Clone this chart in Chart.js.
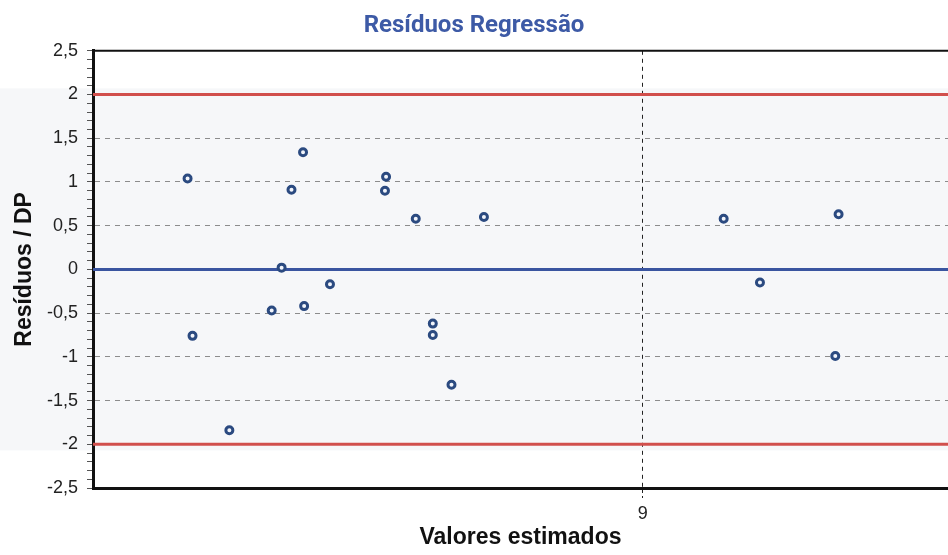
<!DOCTYPE html>
<html>
<head>
<meta charset="utf-8">
<script src="https://cdn.jsdelivr.net/npm/chart.js@4"></script>
<style>
  html, body { margin: 0; padding: 0; background: #fff; }
  #wrap { width: 948px; height: 555px; }
</style>
</head>
<body>
<div id="wrap"><canvas id="residuosChart" width="948" height="555"></canvas></div>
<script>
// valores estimados (x) e resíduos padronizados (y)
const estimados = [8.172, 8.181, 8.248, 8.325, 8.343, 8.361, 8.382, 8.384, 8.431, 8.533,
                   8.531, 8.587, 8.618, 8.618, 8.652, 8.711, 9.147, 9.213, 9.356, 9.350];
const residuos  = [1.04, -0.76, -1.84, -0.47, 0.02, 0.91, 1.34, -0.42, -0.17, 1.06,
                   0.90, 0.58, -0.62, -0.75, -1.32, 0.60, 0.58, -0.15, 0.63, -0.99];
const xRange = [8.0, 9.555];
const xTicks = [9];
const limites = [2, -2];
const centro = 0;

const ctx = document.getElementById('residuosChart').getContext('2d');

const fmt = v => String(Math.round(v * 10) / 10).replace('.', ',');
const isMajor = v => Math.abs(v * 2 - Math.round(v * 2)) < 1e-6;

const hline = (y, color) => ({
    data: [{x: xRange[0], y: y}, {x: xRange[1], y: y}],
    showLine: true,
    borderColor: color,
    borderWidth: 3,
    pointRadius: 0,
    fill: false
});

// faixa cinza clara e borda superior
const bgPlugin = {
    id: 'fundo',
    beforeDraw(chart) {
        const c = chart.ctx, y = chart.scales.y;
        c.save();
        c.fillStyle = '#f6f7f9';
        const top = y.getPixelForValue(2.07), bot = y.getPixelForValue(-2.07);
        c.fillRect(0, top, chart.width, bot - top);
        c.restore();
    },
    afterDraw(chart) {
        const c = chart.ctx, a = chart.chartArea;
        c.save();
        c.strokeStyle = '#111';
        c.lineWidth = 2;
        c.beginPath();
        c.moveTo(a.left, a.top);
        c.lineTo(a.right, a.top);
        c.stroke();
        c.restore();
    }
};

const residuosChart = new Chart(ctx, {
    type: 'scatter',
    data: {
        datasets: [
            {
                label: 'Resíduos',
                data: estimados.map((x, i) => ({x: x, y: residuos[i]})),
                pointStyle: 'circle',
                pointRadius: 3.5,
                borderWidth: 3,
                borderColor: '#2b4a80',
                backgroundColor: '#f2f5fb'
            },
            hline(centro, '#3a55a0'),
            hline(limites[0], '#d14f4c'),
            hline(limites[1], '#d14f4c')
        ]
    },
    options: {
        responsive: false,
        animation: false,
        layout: { padding: 0, autoPadding: false },
        plugins: {
            legend: { display: false },
            tooltip: { enabled: false },
            title: {
                display: true,
                text: 'Resíduos Regressão',
                color: '#3d5aa6',
                font: { family: 'Roboto', size: 24, weight: 'bold' },
                padding: { top: 12, bottom: 10 }
            }
        },
        scales: {
            x: {
                type: 'linear',
                min: xRange[0],
                max: xRange[1],
                afterBuildTicks: s => { s.ticks = xTicks.map(v => ({value: v})); },
                afterFit: s => { s.height = 67; s.paddingLeft = 0; s.paddingRight = 0; },
                ticks: {
                    color: '#222',
                    font: { family: 'Liberation Sans', size: 18 },
                    padding: 5,
                    callback: v => fmt(v)
                },
                grid: {
                    color: '#222',
                    lineWidth: 1,
                    tickLength: 10,
                    tickColor: '#222',
                    tickBorderDash: [3, 3]
                },
                border: { display: true, color: '#111', width: 3, dash: [4, 4] },
                title: {
                    display: true,
                    text: 'Valores estimados',
                    color: '#111',
                    font: { family: 'Liberation Sans', size: 23, weight: 'bold' },
                    padding: { top: 0, bottom: 4 }
                }
            },
            y: {
                min: -2.5,
                max: 2.5,
                afterFit: s => { s.width = 93; },
                ticks: {
                    stepSize: 0.1,
                    autoSkip: false,
                    color: '#222',
                    font: { family: 'Liberation Sans', size: 18 },
                    padding: 9,
                    callback: v => isMajor(v) ? fmt(v) : ''
                },
                grid: {
                    color: c => (c.tick && isMajor(c.tick.value)) ? '#8c8c8c' : 'rgba(0,0,0,0)',
                    lineWidth: 1,
                    tickLength: 6,
                    tickColor: '#555'
                },
                border: { display: true, color: '#111', width: 3, dash: [5, 5] },
                title: {
                    display: true,
                    text: 'Resíduos / DP',
                    color: '#111',
                    font: { family: 'Liberation Sans', size: 23, weight: 'bold' },
                    padding: { top: 11, bottom: 0 }
                }
            }
        }
    },
    plugins: [bgPlugin]
});
</script>
</body>
</html>
